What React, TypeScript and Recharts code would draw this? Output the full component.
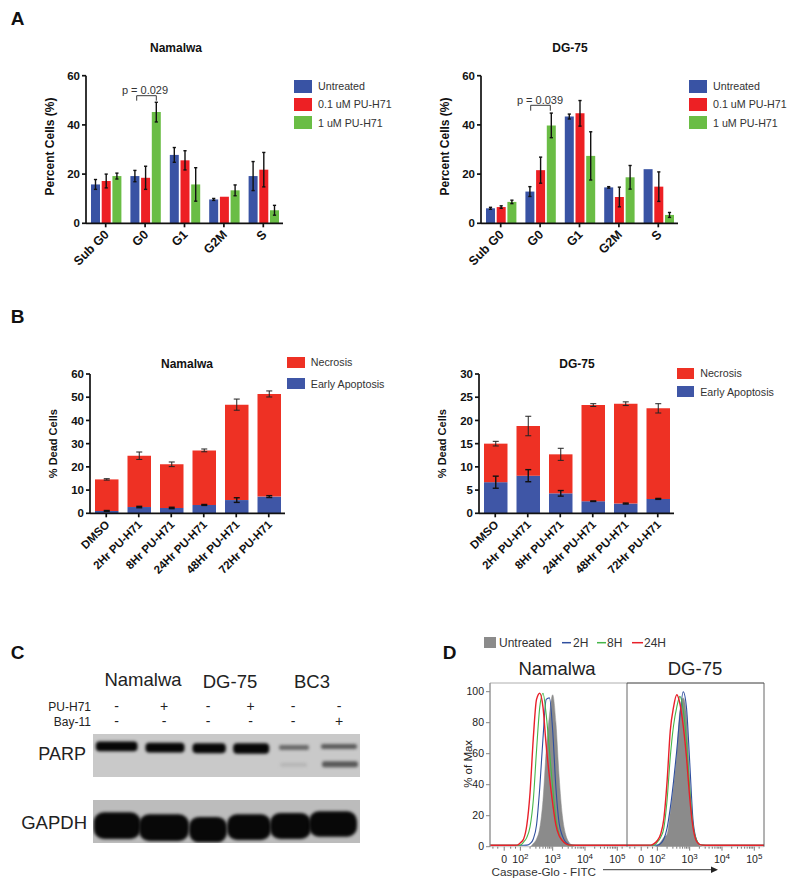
import React from "react";
import {
  Area,
  Bar,
  BarChart,
  ComposedChart,
  ErrorBar,
  Legend,
  Line,
  ReferenceArea,
  XAxis,
  YAxis,
} from "recharts";

const FONT = "'Liberation Sans', Arial, sans-serif";
const BLUE = "#3953a4";
const RED = "#ed2024";
const GREEN = "#6abd45";
const NECROSIS_RED = "#ee3124";
const APOPTOSIS_BLUE = "#3f56a6";
const INK = "#111";

// panel A
const cycleCategories = ["Sub G0", "G0", "G1", "G2M", "S"];
const cycleNames = ["Untreated", "0.1 uM PU-H71", "1 uM PU-H71"];
const namUntreated = [15.8, 19.2, 27.8, 9.7, 19.2];
const namUntreatedErr = [2, 2.3, 3, 0.4, 5.9];
const namLow = [17.2, 18.5, 25.6, 10.8, 21.8];
const namLowErr = [2.8, 4.7, 3.9, 0, 7];
const namHigh = [19.2, 45.2, 15.8, 13.4, 5.3];
const namHighErr = [1.2, 4, 6.8, 2.2, 2];
const dgUntreated = [6.1, 12.9, 43.4, 14.6, 22];
const dgUntreatedErr = [0.4, 2, 1, 0.3, 0];
const dgLow = [6.6, 21.6, 44.7, 10.7, 14.9];
const dgLowErr = [0.5, 5.3, 5.2, 4, 6];
const dgHigh = [8.7, 39.8, 27.4, 18.7, 3.4];
const dgHighErr = [0.7, 5, 9.8, 4.8, 1];

// panel B
const timeCategories = ["DMSO", "2Hr PU-H71", "8Hr PU-H71", "24Hr PU-H71", "48Hr PU-H71", "72Hr PU-H71"];
const namEarly = [1, 2.7, 2.3, 3.6, 5.7, 7.2];
const namEarlyErr = [0.2, 0.3, 0.3, 0.2, 1, 0.4];
const namNecrosis = [13.6, 22.1, 18.8, 23.5, 41.1, 44.2];
const namNecrosisErr = [0.3, 1.6, 1, 0.6, 2.4, 1.3];
const dgEarly = [6.7, 8.1, 4.3, 2.6, 2.1, 3.1];
const dgEarlyErr = [1.3, 1.3, 0.6, 0.05, 0.1, 0.1];
const dgNecrosis = [8.3, 10.7, 8.4, 20.7, 21.5, 19.5];
const dgNecrosisErr = [0.5, 2.1, 1.3, 0.3, 0.4, 1];

// panel C, gel positions are read in pixels of the blot
const parpStart = [2.8, 52.5, 99.5, 140.2, 186, 228, 187.3, 229];
const parpEnd = [44.5, 91.5, 132.8, 176.2, 216, 264, 214, 265];
const parpTop = [7.5, 8.8, 9.2, 9.2, 11, 10, 28.7, 27.3];
const parpBottom = [17.2, 18.5, 19.2, 19.8, 16, 15, 32.7, 33.3];
const parpShade = ["#060606", "#060606", "#060606", "#060606", "#6a6a6a", "#5c5c5c", "#b6b6b6", "#585858"];
const gapdhStart = [0.7, 46, 96, 134, 177, 216];
const gapdhEnd = [47.7, 96, 134, 178, 218, 264];
const gapdhTop = [12.3, 14.3, 17, 14.3, 13, 11.3];
const gapdhBottom = [39, 41, 42.3, 40, 39, 36.7];
const laneCenters = ["Namalwa", "DG-75", "BC3"];
const puRow = ["-", "+", "-", "+", "-", "-"];
const bayRow = ["-", "-", "-", "-", "-", "+"];

// panel D, x is in decades of the biexponential axis
const histX = [1.06, 1.8, 1.9, 2, 2.1, 2.2, 2.3, 2.4, 2.5, 2.6, 2.7, 2.8, 2.9, 3, 3.1, 3.2, 3.3, 3.4, 3.5, 3.6, 3.7, 3.9, 5.3];
const namGray = [0, 0, 0, 0, 0, 0, 0, 2, 5, 12, 30, 62, 85, 98, 80, 45, 20, 8, 3, 1, 0, 0, 0];
const nam2H = [0.9, 0.9, 0.9, 0.9, 0.9, 1, 2, 5, 14, 38, 70, 95, 96, 75, 38, 15, 7, 3, 1.5, 1, 0.9, 0.9, 0.9];
const nam8H = [0.9, 0.9, 0.9, 1, 3, 6, 13, 30, 62, 90, 99, 85, 62, 38, 18, 8, 4, 2, 1, 0.9, 0.9, 0.9, 0.9];
const nam24H = [0.9, 0.9, 1, 2.5, 5, 14, 35, 70, 95, 99, 90, 65, 45, 28, 14, 7, 4, 2, 1.2, 1, 0.9, 0.9, 0.9];
const dgGray = [0, 0, 0, 1, 3, 6, 8, 22, 39, 60, 88, 96, 85, 43, 13, 4, 1, 0, 0, 0, 0, 0, 0];
const dg2H = [0.9, 0.9, 0.9, 1, 2, 5, 12, 25, 42, 62, 85, 100, 90, 55, 18, 5, 1.5, 1, 0.9, 0.9, 0.9, 0.9, 0.9];
const dg8H = [0.9, 0.9, 1, 3, 6, 12, 30, 58, 78, 90, 97, 88, 68, 38, 14, 5, 1.5, 1, 0.9, 0.9, 0.9, 0.9, 0.9];
const dg24H = [0.9, 1, 2, 4, 8, 18, 42, 75, 90, 98, 92, 78, 58, 32, 13, 4, 1.5, 1, 0.9, 0.9, 0.9, 0.9, 0.9];
const histMajorTicks = [1.5, 2, 3, 4, 5];
const histMajorLabels = ["0", "10", "10", "10", "10"];
const histMajorPowers = ["", "2", "3", "4", "5"];
const histMinorTicks = [1.15, 1.3, 1.7, 1.85, 2.3, 2.48, 2.6, 2.7, 2.78, 2.85, 2.9, 2.95, 3.3, 3.48, 3.6, 3.7, 3.78, 3.85, 3.9, 3.95, 4.3, 4.48, 4.6, 4.7, 4.78, 4.85, 4.9, 4.95, 5.15];
const histYTicks = [0, 20, 40, 60, 80, 100];

const cycleTable = (a: number[], ae: number[], b: number[], be: number[], c: number[], ce: number[]) =>
  cycleCategories.map((name, i) => ({ name, a: a[i], ae: ae[i], b: b[i], be: be[i], c: c[i], ce: ce[i] }));

const timeTable = (early: number[], earlyErr: number[], nec: number[], necErr: number[]) =>
  timeCategories.map((name, i) => ({ name, early: early[i], earlyErr: earlyErr[i], nec: nec[i], necErr: necErr[i] }));

const histTable = (gray: number[], h2: number[], h8: number[], h24: number[]) =>
  histX.map((x, i) => ({ x, gray: gray[i], h2: h2[i], h8: h8[i], h24: h24[i] }));

function T({ x, y, size = 12, bold, color = "#222", anchor = "center", children }: any) {
  const shift = anchor === "center" ? "-50%" : anchor === "right" ? "-100%" : "0";
  return (
    <div
      style={{
        position: "absolute",
        left: x,
        top: y,
        transform: `translate(${shift}, -50%)`,
        fontSize: size,
        fontWeight: bold ? 700 : 400,
        color,
        whiteSpace: "nowrap",
        lineHeight: 1,
      }}
    >
      {children}
    </div>
  );
}

function RotatedTick({ x, y, payload, size }: any) {
  return (
    <text
      transform={`translate(${x + 4},${y + 6}) rotate(-45)`}
      textAnchor="end"
      fontSize={size}
      fontWeight={700}
      fill={INK}
      fontFamily={FONT}
    >
      {payload.value}
    </text>
  );
}

function SwatchLegend({ payload, order, gap, swatchH, textLeft }: any) {
  const rows = order.map((name: string) => (payload || []).find((p: any) => p.value === name)).filter(Boolean);
  return (
    <div style={{ fontFamily: FONT, fontSize: 10.7, color: "#333" }}>
      {rows.map((p: any) => (
        <div key={p.value} style={{ position: "relative", height: gap, whiteSpace: "nowrap" }}>
          <div style={{ position: "absolute", left: 0, top: 0, width: 17.5, height: swatchH, background: p.color }} />
          <span style={{ position: "absolute", left: textLeft, top: swatchH / 2 - 7, lineHeight: "14px" }}>{p.value}</span>
        </div>
      ))}
    </div>
  );
}

const axisProps = { stroke: INK, strokeWidth: 1.7, tickSize: 4 };
const yTickStyle = { fontSize: 11.5, fontWeight: 700, fill: INK, fontFamily: FONT };
const errProps = { stroke: "#111", strokeWidth: 1.4, width: 1.6 };

function CycleChart({ left, data }: any) {
  return (
    <div style={{ position: "absolute", left, top: 40 }}>
      <BarChart
        width={365}
        height={250}
        data={data}
        margin={{ top: 35.7, right: 112, bottom: 0, left: 0 }}
        barSize={9}
        barGap={1.7}
      >
        <XAxis dataKey="name" {...axisProps} height={66.7} tick={<RotatedTick size={12.5} />} interval={0} />
        <YAxis
          {...axisProps}
          width={56}
          domain={[0, 60]}
          ticks={[0, 20, 40, 60]}
          tick={yTickStyle}
          label={{ value: "Percent Cells (%)", angle: -90, position: "center", dx: -8, dy: -3, fontSize: 12, fontWeight: 700, fill: INK }}
        />
        <Bar dataKey="a" name={cycleNames[0]} fill={BLUE} isAnimationActive={false}>
          <ErrorBar dataKey="ae" {...errProps} />
        </Bar>
        <Bar dataKey="b" name={cycleNames[1]} fill={RED} isAnimationActive={false}>
          <ErrorBar dataKey="be" {...errProps} />
        </Bar>
        <Bar dataKey="c" name={cycleNames[2]} fill={GREEN} isAnimationActive={false}>
          <ErrorBar dataKey="ce" {...errProps} />
        </Bar>
        <Legend
          layout="vertical"
          align="center"
          verticalAlign="middle"
          wrapperStyle={{ left: 264, top: 40, width: 100 }}
          content={<SwatchLegend order={cycleNames} gap={18.2} swatchH={12.5} textLeft={24} />}
        />
      </BarChart>
    </div>
  );
}

function TimeChart({ left, data, max, ticks, legendLeft, legendTop, gap }: any) {
  return (
    <div style={{ position: "absolute", left, top: 350 }}>
      <BarChart width={370} height={240} data={data} margin={{ top: 24, right: 115, bottom: 0, left: 0 }} barSize={23.5}>
        <XAxis dataKey="name" {...axisProps} height={76.7} tick={<RotatedTick size={11.5} />} interval={0} />
        <YAxis
          {...axisProps}
          width={60}
          domain={[0, max]}
          ticks={ticks}
          tick={yTickStyle}
          label={{ value: "% Dead Cells", angle: -90, position: "center", dx: -6.5, dy: 0, fontSize: 11, fontWeight: 700, fill: INK }}
        />
        <Bar dataKey="early" name="Early Apoptosis" stackId="s" fill={APOPTOSIS_BLUE} isAnimationActive={false}>
          <ErrorBar dataKey="earlyErr" stroke="#111" strokeWidth={1.4} width={3} />
        </Bar>
        <Bar dataKey="nec" name="Necrosis" stackId="s" fill={NECROSIS_RED} isAnimationActive={false}>
          <ErrorBar dataKey="necErr" stroke="#222" strokeWidth={1} width={3} />
        </Bar>
        <Legend
          layout="vertical"
          align="center"
          verticalAlign="middle"
          wrapperStyle={{ left: legendLeft, top: legendTop, width: 115 }}
          content={<SwatchLegend order={["Necrosis", "Early Apoptosis"]} gap={gap} swatchH={11.5} textLeft={23.5} />}
        />
      </BarChart>
    </div>
  );
}

function BlotBand(props: any) {
  const { x, y, width, height, fill, blur } = props;
  return <rect x={x} y={y} width={width} height={height} rx={height / 2.6} fill={fill} style={{ filter: `blur(${blur}px)` }} />;
}

function Blot({ left, top, width, height, bg, start, end, bandTop, bandBottom, shades, blur }: any) {
  const frame = [
    { x: 0, y: 0 },
    { x: width, y: height },
  ];
  return (
    <div style={{ position: "absolute", left, top }}>
      <ComposedChart width={width} height={height} data={frame} margin={{ top: 0, right: 0, bottom: 0, left: 0 }}>
        <XAxis hide type="number" dataKey="x" domain={[0, width]} />
        <YAxis hide type="number" dataKey="y" domain={[0, height]} reversed />
        <Line dataKey="y" stroke="none" dot={false} isAnimationActive={false} />
        <ReferenceArea x1={0} x2={width} y1={0} y2={height} fill={bg} fillOpacity={1} stroke="none" />
        {start.map((s: number, i: number) => (
          <ReferenceArea
            key={i}
            x1={s}
            x2={end[i]}
            y1={bandTop[i]}
            y2={bandBottom[i]}
            fill={shades ? shades[i] : "#080808"}
            fillOpacity={1}
            stroke="none"
            shape={<BlotBand blur={blur} />}
          />
        ))}
      </ComposedChart>
    </div>
  );
}

function HistXTick({ x, y, payload }: any) {
  const idx = histMajorTicks.indexOf(payload.value);
  const major = idx >= 0;
  return (
    <g>
      <line x1={x} x2={x} y1={y - 8} y2={y - 8 + (major ? 4 : 2)} stroke="#444" strokeWidth={0.7} />
      {major && (
        <text x={x} y={y + 8.3} textAnchor="middle" fontSize={10.5} fill="#222" fontFamily={FONT}>
          {histMajorLabels[idx]}
          {histMajorPowers[idx] && (
            <tspan dy={-4} fontSize={8}>
              {histMajorPowers[idx]}
            </tspan>
          )}
        </text>
      )}
    </g>
  );
}

function Histogram({ left, top, width, yWidth, data }: any) {
  return (
    <div style={{ position: "absolute", left, top }}>
      <ComposedChart width={width} height={199} data={data} margin={{ top: 5, right: 0, bottom: 0, left: 0 }}>
        <XAxis
          type="number"
          dataKey="x"
          domain={[1.06, 5.3]}
          allowDataOverflow
          ticks={[...histMajorTicks, ...histMinorTicks].sort((a, b) => a - b)}
          interval={0}
          height={30.3}
          tick={<HistXTick />}
          tickLine={false}
          axisLine={false}
        />
        <YAxis
          hide={yWidth === 0}
          width={yWidth}
          domain={[0, 105.6]}
          ticks={histYTicks}
          tick={{ fontSize: 10.5, fill: "#222", fontFamily: FONT }}
          tickSize={4}
          stroke="#666"
          strokeWidth={0.8}
          label={{ value: "% of Max", angle: -90, position: "center", dx: -5, dy: -1, fontSize: 11.5, fill: "#222" }}
        />
        <Area type="monotone" dataKey="gray" fill="#8b8b8b" fillOpacity={1} stroke="#8b8b8b" strokeWidth={0.5} isAnimationActive={false} />
        <Line type="monotone" dataKey="h2" stroke="#2f4f9f" strokeWidth={1.1} dot={false} isAnimationActive={false} />
        <Line type="monotone" dataKey="h8" stroke="#45b649" strokeWidth={1.1} dot={false} isAnimationActive={false} />
        <Line type="monotone" dataKey="h24" stroke="#e8202a" strokeWidth={1.4} dot={false} isAnimationActive={false} />
      </ComposedChart>
    </div>
  );
}

export default function App() {
  return (
    <div style={{ position: "absolute", left: 0, top: 0, width: 795, height: 887, background: "#fff", fontFamily: FONT, overflow: "hidden" }}>
      <T x={17.5} y={18} size={19} bold color="#111">A</T>
      <T x={17.5} y={316} size={19} bold color="#111">B</T>
      <T x={17.5} y={652} size={19} bold color="#111">C</T>
      <T x={449.5} y={652} size={19} bold color="#111">D</T>

      <T x={176} y={48} bold color="#111">Namalwa</T>
      <T x={570} y={48} bold color="#111">DG-75</T>
      <CycleChart left={30} data={cycleTable(namUntreated, namUntreatedErr, namLow, namLowErr, namHigh, namHighErr)} />
      <CycleChart left={425} data={cycleTable(dgUntreated, dgUntreatedErr, dgLow, dgLowErr, dgHigh, dgHighErr)} />
      <T x={145} y={89.5} size={11} color="#333">p = 0.029</T>
      <T x={540} y={100} size={11} color="#333">p = 0.039</T>

      <T x={187} y={364} bold color="#111">Namalwa</T>
      <T x={577} y={364} bold color="#111">DG-75</T>
      <TimeChart
        left={30}
        data={timeTable(namEarly, namEarlyErr, namNecrosis, namNecrosisErr)}
        max={60}
        ticks={[0, 10, 20, 30, 40, 50, 60]}
        legendLeft={257.3}
        legendTop={6.7}
        gap={21.3}
      />
      <TimeChart
        left={419}
        data={timeTable(dgEarly, dgEarlyErr, dgNecrosis, dgNecrosisErr)}
        max={30}
        ticks={[0, 5, 10, 15, 20, 25, 30]}
        legendLeft={257.7}
        legendTop={17.7}
        gap={18.3}
      />

      <T x={143} y={680} size={18.5}>{laneCenters[0]}</T>
      <T x={230} y={682} size={18.5}>{laneCenters[1]}</T>
      <T x={312} y={682} size={18.5}>{laneCenters[2]}</T>
      <T x={91} y={707} size={12} anchor="right">PU-H71</T>
      <T x={91} y={722} size={12} anchor="right">Bay-11</T>
      {[116.7, 164, 208, 250.7, 293, 339].map((x, i) => (
        <React.Fragment key={x}>
          <T x={x} y={705.5} size={14}>{puRow[i]}</T>
          <T x={x} y={721} size={14}>{bayRow[i]}</T>
        </React.Fragment>
      ))}
      <T x={86} y={754} size={18} anchor="right">PARP</T>
      <T x={87} y={822.7} size={18.5} anchor="right">GAPDH</T>
      <Blot left={92.7} top={734} width={267} height={43} bg="#c9c9c9" start={parpStart} end={parpEnd} bandTop={parpTop} bandBottom={parpBottom} shades={parpShade} blur={1.5} />
      <Blot left={93} top={799.5} width={267} height={43.5} bg="#bcbcbc" start={gapdhStart} end={gapdhEnd} bandTop={gapdhTop} bandBottom={gapdhBottom} blur={1.5} />

      <div style={{ position: "absolute", left: 484, top: 637, width: 12, height: 11, background: "#8b8b8b" }} />
      <T x={499} y={642.7} anchor="left" color="#333">Untreated</T>
      <T x={573} y={642.7} anchor="left" color="#333">2H</T>
      <T x={607} y={642.7} anchor="left" color="#333">8H</T>
      <T x={644} y={642.7} anchor="left" color="#333">24H</T>
      <T x={557} y={668.7} size={18.5}>Namalwa</T>
      <T x={695} y={668.7} size={18.5}>DG-75</T>
      <Histogram left={455} top={678} width={172} yWidth={35} data={histTable(namGray, nam2H, nam8H, nam24H)} />
      <Histogram left={627} top={678} width={137} yWidth={0} data={histTable(dgGray, dg2H, dg8H, dg24H)} />
      <T x={491.5} y={872} size={11.7} anchor="left" color="#333">Caspase-Glo - FITC</T>

      <svg width={795} height={887} style={{ position: "absolute", left: 0, top: 0, pointerEvents: "none" }}>
        <path d="M136.7 100.7V95.7H156.3V100.7" fill="none" stroke="#222" strokeWidth={0.9} />
        <path d="M530.7 110.7V105.3H550.3V110.7" fill="none" stroke="#222" strokeWidth={0.9} />
        <path d="M562 642.7H571" stroke="#2f4f9f" strokeWidth={1.5} />
        <path d="M597 642.7H606" stroke="#45b649" strokeWidth={1.5} />
        <path d="M632 642.7H643" stroke="#e8202a" strokeWidth={1.5} />
        <path d="M490 846.7V683H764" fill="none" stroke="#999" strokeWidth={0.8} />
        <path d="M627 846.7V683H764V846.7" fill="none" stroke="#555" strokeWidth={0.9} />
        <path d="M603 869.7H714" stroke="#222" strokeWidth={0.9} />
        <path d="M718 869.7L711 866.5V873Z" fill="#222" />
      </svg>
    </div>
  );
}
